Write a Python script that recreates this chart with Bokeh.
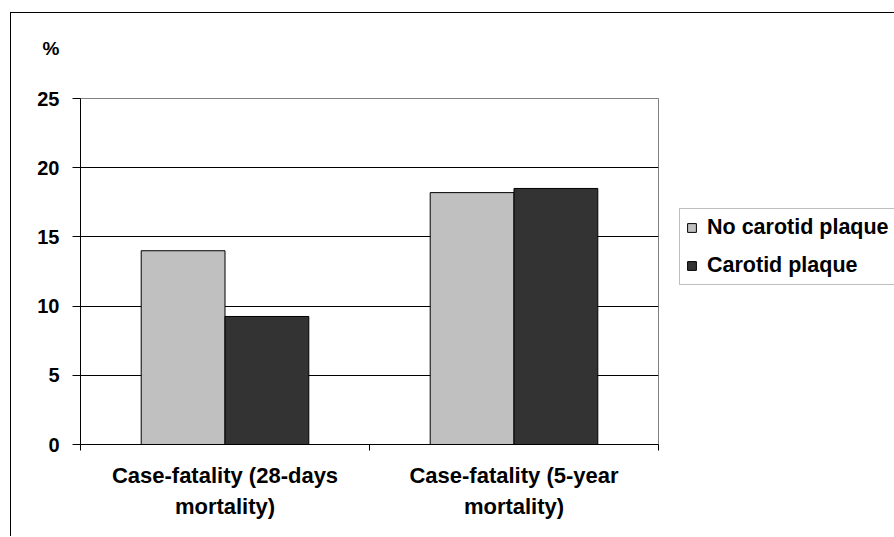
from bokeh.plotting import figure
from bokeh.models import (ColumnDataSource, FixedTicker, Legend, LegendItem, Range1d, Title)
from bokeh.transform import dodge
from bokeh.embed import file_html
from bokeh.resources import INLINE

categories = ["Case-fatality (28-days\nmortality)", "Case-fatality (5-year\nmortality)"]
series_names = ["No carotid plaque", "Carotid plaque"]
no_plaque = [14.0, 18.2]
plaque = [9.25, 18.5]
y_ticks = [0, 5, 10, 15, 20, 25]
unit_label = "%"

FONT = "Liberation Sans"

pos = [i + 0.5 for i in range(len(categories))]
src = ColumnDataSource(dict(x=pos, a=no_plaque, b=plaque))

p = figure(width=881, height=524, output_backend="svg", toolbar_location=None,
           x_range=Range1d(0, len(categories)), y_range=Range1d(0, 25),
           frame_width=578, frame_height=346,
           min_border_left=69, min_border_top=85, min_border_right=234, min_border_bottom=93)
p.styles = {"box-shadow": "-1px -1px 0px 0px black", "overflow": "hidden",
            "margin-left": "11px", "margin-top": "13px", "border": "none"}

p.outline_line_color = "#808080"
p.outline_line_width = 1
p.background_fill_color = "white"
p.border_fill_color = "white"

r1 = p.vbar(x=dodge("x", -0.145, range=p.x_range), top="a", width=0.29, source=src,
            fill_color="#c0c0c0", line_color="black", line_width=1)
r2 = p.vbar(x=dodge("x", 0.145, range=p.x_range), top="b", width=0.29, source=src,
            fill_color="#333333", line_color="black", line_width=1)

# axes
p.xaxis.ticker = FixedTicker(ticks=pos, minor_ticks=[float(i) for i in range(len(categories) + 1)])
p.xaxis.major_label_overrides = {pos[i]: categories[i] for i in range(len(categories))}
p.xaxis.major_tick_out = 0
p.xaxis.major_tick_in = 0
p.xaxis.minor_tick_out = 6
p.xaxis.minor_tick_in = 0
p.xaxis.minor_tick_line_color = "black"
p.xaxis.axis_line_color = "black"
p.xaxis.major_label_standoff = 12
p.xaxis.major_label_text_font = FONT
p.xaxis.major_label_text_font_style = "bold"
p.xaxis.major_label_text_font_size = "22px"
p.xaxis.major_label_text_color = "black"
p.xaxis.major_label_text_line_height = 1.25

p.yaxis.ticker = FixedTicker(ticks=y_ticks)
p.yaxis.major_tick_out = 8
p.yaxis.major_tick_in = 0
p.yaxis.minor_tick_out = 0
p.yaxis.minor_tick_in = 0
p.yaxis.major_tick_line_color = "black"
p.yaxis.axis_line_color = "black"
p.yaxis.major_label_standoff = 13
p.yaxis.major_label_text_font = FONT
p.yaxis.major_label_text_font_style = "bold"
p.yaxis.major_label_text_font_size = "20px"
p.yaxis.major_label_text_color = "black"

p.xgrid.grid_line_color = None
p.ygrid.ticker = FixedTicker(ticks=y_ticks[1:-1])
p.ygrid.grid_line_color = "black"
p.ygrid.grid_line_width = 1

# "%" unit label (outermost title) with a spacer title nearer the frame
p.title.text = unit_label
p.title.align = "left"
p.title.offset = -38
p.title.standoff = 0
p.title.text_font = FONT
p.title.text_font_style = "bold"
p.title.text_font_size = "19px"
p.title.text_color = "black"
p.add_layout(Title(text=" ", standoff=17, text_font=FONT, text_font_size="19px"), "above")

legend = Legend(items=[LegendItem(label=series_names[0], renderers=[r1]),
                       LegendItem(label=series_names[1], renderers=[r2])],
                location=(21, 159))
legend.label_text_font = FONT
legend.label_text_font_style = "bold"
legend.label_text_font_size = "21.5px"
legend.label_text_color = "black"
legend.label_height = 20
legend.label_standoff = 10
legend.glyph_width = 11
legend.glyph_height = 11
legend.spacing = 13
legend.padding = 6
legend.margin = 0
legend.border_line_color = "#808080"
legend.border_line_width = 1
legend.background_fill_alpha = 1
p.add_layout(legend, "right")

open("out.html", "w").write(file_html(p, INLINE))
